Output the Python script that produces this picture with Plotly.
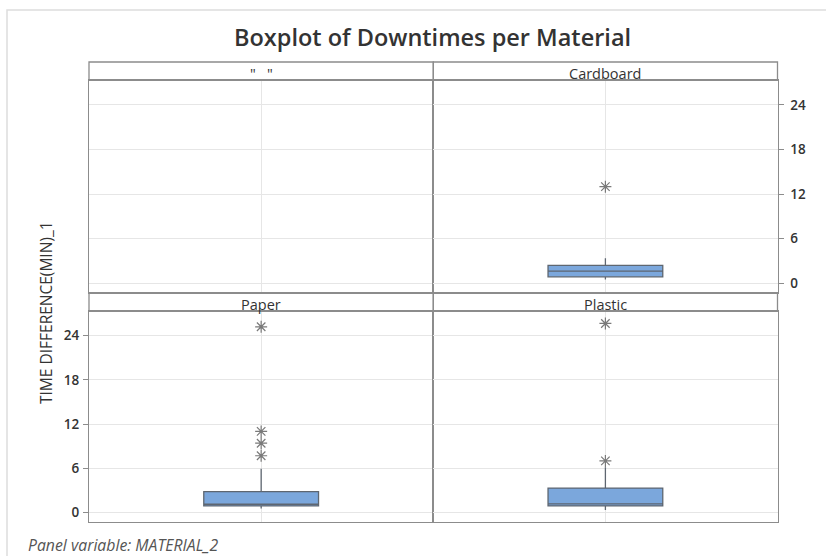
import plotly.graph_objects as go

# Panel labels (Minitab panel variable MATERIAL_2); the first level is an empty string
panels = ['"\u00a0\u00a0\u00a0"', "Cardboard", "Paper", "Plastic"]

# Box statistics per material (minutes)
materials = ["Cardboard", "Paper", "Plastic"]
q1_vals = [0.89, 0.89, 0.89]
median_vals = [1.66, 1.12, 1.16]
q3_vals = [2.43, 2.83, 3.31]
lower_whisker = [0.54, 0.54, 0.35]
upper_whisker = [3.37, 5.92, 6.14]
outliers = [
    [13.0],
    [25.2, 11.0, 9.4, 7.7],
    [25.65, 7.0],
]

y_ticks = [0, 6, 12, 18, 24]
y_range = [-1.25, 27.3]

W, H = 826, 556
FRAME = "#8c8c8c"
GRID = "#e6e6e6"
TXT = "#333333"
BOX_FILL = "#7ba7dc"
BOX_LINE = "#5e6670"
STAR = "#7a7a7a"


def px(x):
    return x / W


def py(y):
    return 1 - y / H


x_left, x_mid, x_right = 89, 433.3, 777.5
top_strip, top_plot, top_bottom = 62, 80.3, 292.7
bot_plot, bot_bottom = 311.3, 521.7

fig = go.Figure()

# the empty-level panel has no data, but keep its axes drawn
fig.add_trace(go.Scatter(x=[None], y=[None], mode="markers", xaxis="x",
                         yaxis="y", showlegend=False, hoverinfo="skip"))

# axis slot for each material panel
axis_of = {"Cardboard": 2, "Paper": 3, "Plastic": 4}

for i, m in enumerate(materials):
    k = axis_of[m]
    fig.add_trace(go.Box(
        x=[0], q1=[q1_vals[i]], median=[median_vals[i]], q3=[q3_vals[i]],
        lowerfence=[lower_whisker[i]], upperfence=[upper_whisker[i]],
        width=1 / 3, whiskerwidth=0, fillcolor=BOX_FILL,
        line=dict(color=BOX_LINE, width=1.3), boxpoints=False,
        xaxis=f"x{k}", yaxis=f"y{k}", name=m, showlegend=False,
        hoverinfo="skip",
    ))
    fig.add_trace(go.Scatter(
        x=[0] * len(outliers[i]), y=outliers[i], mode="markers",
        marker=dict(symbol="asterisk-open", size=10, color=STAR,
                    line=dict(color=STAR, width=1.2)),
        xaxis=f"x{k}", yaxis=f"y{k}", showlegend=False, hoverinfo="skip",
    ))

domains_x = {1: [px(x_left), px(x_mid)], 2: [px(x_mid), px(x_right)],
             3: [px(x_left), px(x_mid)], 4: [px(x_mid), px(x_right)]}
domains_y = {1: [py(top_bottom), py(top_plot)], 2: [py(top_bottom), py(top_plot)],
             3: [py(bot_bottom), py(bot_plot)], 4: [py(bot_bottom), py(bot_plot)]}

layout = dict(
    width=W, height=H, margin=dict(l=0, r=0, t=0, b=0),
    paper_bgcolor="white", plot_bgcolor="white",
    font=dict(family="Open Sans, Noto Sans, sans-serif", color=TXT),
    showlegend=False,
)

for k in range(1, 5):
    sx = "" if k == 1 else str(k)
    layout[f"xaxis{sx}"] = dict(
        domain=domains_x[k], range=[-0.5, 0.5], tickvals=[0],
        showticklabels=False, ticks="", showgrid=True, gridcolor=GRID,
        zeroline=False, showline=True, mirror=True, linecolor=FRAME,
        linewidth=1, anchor=f"y{sx}", fixedrange=True,
    )
    yax = dict(
        domain=domains_y[k], range=y_range, tickvals=y_ticks,
        showgrid=True, gridcolor=GRID, zeroline=False, showline=True,
        mirror=True, linecolor=FRAME, linewidth=1, anchor=f"x{sx}",
        showticklabels=False, ticks="",
    )
    if k == 2:
        yax.update(side="right", showticklabels=True, ticks="outside",
                   ticklen=5, tickcolor=FRAME, ticklabelstandoff=4,
                   tickfont=dict(size=13.5, color=TXT, weight=600))
    if k == 3:
        yax.update(side="left", showticklabels=True, ticks="outside",
                   ticklen=5, tickcolor=FRAME, ticklabelstandoff=1,
                   tickfont=dict(size=13.5, color=TXT, weight=600))
    layout[f"yaxis{sx}"] = yax

shapes = []
# figure border (left and top edges visible)
shapes.append(dict(type="rect", xref="paper", yref="paper",
                   x0=px(7), x1=px(W + 10), y0=py(10), y1=py(H + 10),
                   line=dict(color="#dddddd", width=1.5)))
# panel header strips
for y0, y1 in [(top_strip, top_plot), (top_bottom, bot_plot)]:
    for x0, x1 in [(x_left, x_mid), (x_mid, x_right)]:
        shapes.append(dict(type="rect", xref="paper", yref="paper",
                           x0=px(x0), x1=px(x1), y0=py(y1), y1=py(y0),
                           line=dict(color=FRAME, width=1.3),
                           fillcolor="rgba(0,0,0,0)"))
layout["shapes"] = shapes

annotations = []
strip_pos = [((x_left + x_mid) / 2, 73.5), ((x_mid + x_right) / 2, 73.5),
             ((x_left + x_mid) / 2, 304.5), ((x_mid + x_right) / 2, 304.5)]
for label, (xc, yc) in zip(panels, strip_pos):
    annotations.append(dict(text=label, x=px(xc), y=py(yc), xref="paper",
                            yref="paper", showarrow=False,
                            font=dict(size=14.5, color=TXT, weight=500),
                            xanchor="center", yanchor="middle"))
annotations.append(dict(text="Boxplot of Downtimes per Material",
                        x=px(432), y=py(37), xref="paper", yref="paper",
                        showarrow=False, xanchor="center", yanchor="middle",
                        font=dict(size=23.5, color=TXT, weight=600)))
annotations.append(dict(text="TIME DIFFERENCE(MIN)_1", x=px(46), y=py(313),
                        xref="paper", yref="paper", showarrow=False,
                        textangle=-90, xanchor="center", yanchor="middle",
                        font=dict(size=15.5, color=TXT, weight=500)))
annotations.append(dict(text="<i>Panel variable: MATERIAL_2</i>",
                        x=px(26), y=py(545), xref="paper", yref="paper",
                        showarrow=False, xanchor="left", yanchor="middle",
                        font=dict(size=15.8, color="#555555")))
layout["annotations"] = annotations

fig.update_layout(**layout)
fig.write_html("out.html")
